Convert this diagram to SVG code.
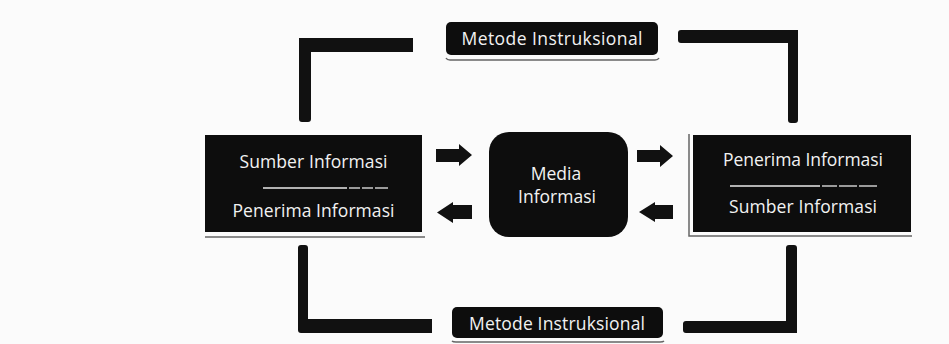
<svg xmlns="http://www.w3.org/2000/svg" width="949" height="344" viewBox="0 0 949 344">
<defs>
<style>
.blk{fill:#111}
.box{fill:#0d0d0d}
.edge{fill:none;stroke:#666;stroke-width:1.5}
.t{fill:#f2f2f2;font-family:"Open Sans","Liberation Sans",sans-serif;font-size:17.5px;text-anchor:middle}
.dash{stroke:#e8e8e8;stroke-width:1.3}
</style>
</defs>
<rect width="949" height="344" fill="#fbfbfb"/>

<g id="connectors">
  <path class="blk" d="M299 38 H413 V52 H311 V119 Q311 122 308 122 H302 Q299 122 299 119 Z"/>
  <path class="blk" d="M681 30 H798 V120 Q798 123 795 123 H791 Q788 123 788 120 V43 H681 Q678 43 678 40 V33 Q678 30 681 30 Z"/>
  <path class="blk" d="M301 245 H305 Q308 245 308 248 V319 H432 V333 H301 Q298 333 298 330 V248 Q298 245 301 245 Z"/>
  <path class="blk" d="M789 245 H794 Q797 245 797 248 V333 H686 Q683 333 683 330 V324 Q683 321 686 321 H786 V248 Q786 245 789 245 Z"/>
  <path class="blk" d="M436 149 H459 V144 L472 155 L459 166 V162 H436 Z"/>
  <path class="blk" d="M472 205 H453 V202 L437 212.5 L453 223 V219 H472 Z"/>
  <path class="blk" d="M637 150 H660 V145 L673 156 L660 167 V162 H637 Z"/>
  <path class="blk" d="M673 205 H655 V202 L639 212 L655 222 V219 H673 Z"/>
</g>

<g id="top-label">
  <rect class="box" x="446" y="22" width="212" height="33" rx="5"/>
  <path class="edge" d="M446 58 Q447 60 450 60 H655 Q658 60 659 58"/>
  <text class="t" x="552" y="45" textLength="181">Metode Instruksional</text>
</g>

<g id="left-box">
  <rect class="box" x="205" y="135" width="217" height="97"/>
  <line class="edge" x1="205" y1="237" x2="425" y2="237"/>
  <text class="t" x="313.5" y="168" textLength="148">Sumber Informasi</text>
  <line class="dash" x1="263" y1="188" x2="347" y2="188"/>
  <line class="dash" x1="349" y1="188" x2="360" y2="188"/>
  <line class="dash" x1="362" y1="188" x2="373" y2="188"/>
  <line class="dash" x1="375" y1="188" x2="388" y2="188"/>
  <text class="t" x="313.5" y="217" textLength="162">Penerima Informasi</text>
</g>

<g id="media">
  <rect class="box" x="489" y="132" width="139" height="105" rx="20"/>
  <text class="t" x="556" y="180">Media</text>
  <text class="t" x="557" y="203">Informasi</text>
</g>

<g id="right-box">
  <rect class="box" x="693" y="135" width="218" height="97"/>
  <path class="edge" d="M689 134 V236 H912"/>
  <text class="t" x="803" y="166" textLength="160">Penerima Informasi</text>
  <line class="dash" x1="730" y1="186" x2="820" y2="186"/>
  <line class="dash" x1="822" y1="186" x2="837" y2="186"/>
  <line class="dash" x1="839" y1="186" x2="857" y2="186"/>
  <line class="dash" x1="859" y1="186" x2="877" y2="186"/>
  <text class="t" x="803" y="213" textLength="148">Sumber Informasi</text>
</g>

<g id="bottom-label">
  <rect class="box" x="452" y="307" width="211" height="31" rx="5"/>
  <path class="edge" d="M452 341 Q453 342 456 342 H660 Q663 342 664 341"/>
  <text class="t" x="557" y="330" textLength="176">Metode Instruksional</text>
</g>
</svg>
